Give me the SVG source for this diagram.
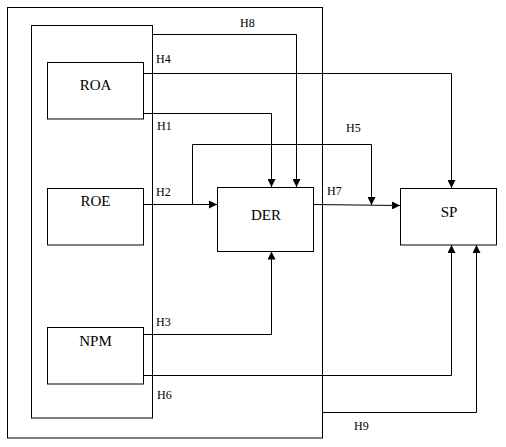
<svg xmlns="http://www.w3.org/2000/svg" width="506" height="447" viewBox="0 0 506 447">
<style>
.box{fill:#fff;stroke:#000;stroke-width:1}
.frame{fill:none;stroke:#000;stroke-width:1}
.lbl{font-family:'Liberation Serif','Times New Roman',serif;font-size:15px;fill:#000;text-anchor:middle}
.h{font-family:'Liberation Serif','Times New Roman',serif;font-size:12px;fill:#000}
.c{fill:none;stroke:#000;stroke-width:1}
</style>
<defs>
<marker id="ah" viewBox="0 0 8 8" refX="8" refY="4" markerWidth="8" markerHeight="8" markerUnits="userSpaceOnUse" orient="auto">
<path d="M0,0 L8,4 L0,8 Z" fill="#000"/>
</marker>
</defs>
<g id="outer-frame"><rect class="frame" x="7.5" y="7.5" width="315" height="430.5"/></g>
<g id="inner-frame"><rect class="frame" x="31.5" y="25.5" width="121" height="392.5"/></g>
<g id="connectors">
<polyline class="c" points="152.5,34.5 296.5,34.5 296.5,187" marker-end="url(#ah)"/>
<polyline class="c" points="143.5,73.5 451.5,73.5 451.5,188" marker-end="url(#ah)"/>
<polyline class="c" points="143.5,113.5 271.5,113.5 271.5,187" marker-end="url(#ah)"/>
<polyline class="c" points="192.5,204.5 192.5,144.5 371.5,144.5 371.5,205" marker-end="url(#ah)"/>
<polyline class="c" points="143.5,204.5 217,204.5" marker-end="url(#ah)"/>
<polyline class="c" points="313.5,204.5 400,205.5" marker-end="url(#ah)"/>
<polyline class="c" points="143.5,334.5 271.5,334.5 271.5,251.5" marker-end="url(#ah)"/>
<polyline class="c" points="143.5,375.5 451.5,375.5 451.5,245" marker-end="url(#ah)"/>
<polyline class="c" points="322.5,412.5 476.5,412.5 476.5,245" marker-end="url(#ah)"/>
<text class="h" x="240" y="27">H8</text>
<text class="h" x="156" y="63">H4</text>
<text class="h" x="157" y="130">H1</text>
<text class="h" x="346" y="132">H5</text>
<text class="h" x="156" y="196">H2</text>
<text class="h" x="327" y="195">H7</text>
<text class="h" x="156" y="326">H3</text>
<text class="h" x="157" y="399">H6</text>
<text class="h" x="354" y="430">H9</text>
</g>
<g id="ROA"><rect class="box" x="47.5" y="62.5" width="96" height="56.5"/><text class="lbl" x="95.5" y="89.5">ROA</text></g>
<g id="ROE"><rect class="box" x="47.5" y="188.5" width="96" height="56.5"/><text class="lbl" x="95.5" y="205.5">ROE</text></g>
<g id="NPM"><rect class="box" x="47.5" y="327.5" width="96" height="56.5"/><text class="lbl" x="95.5" y="345.5">NPM</text></g>
<g id="DER"><rect class="box" x="217.5" y="187.5" width="96" height="64"/><text class="lbl" x="266" y="219.5">DER</text></g>
<g id="SP"><rect class="box" x="400.5" y="188.5" width="96" height="56.5"/><text class="lbl" x="449" y="217">SP</text></g>
</svg>
